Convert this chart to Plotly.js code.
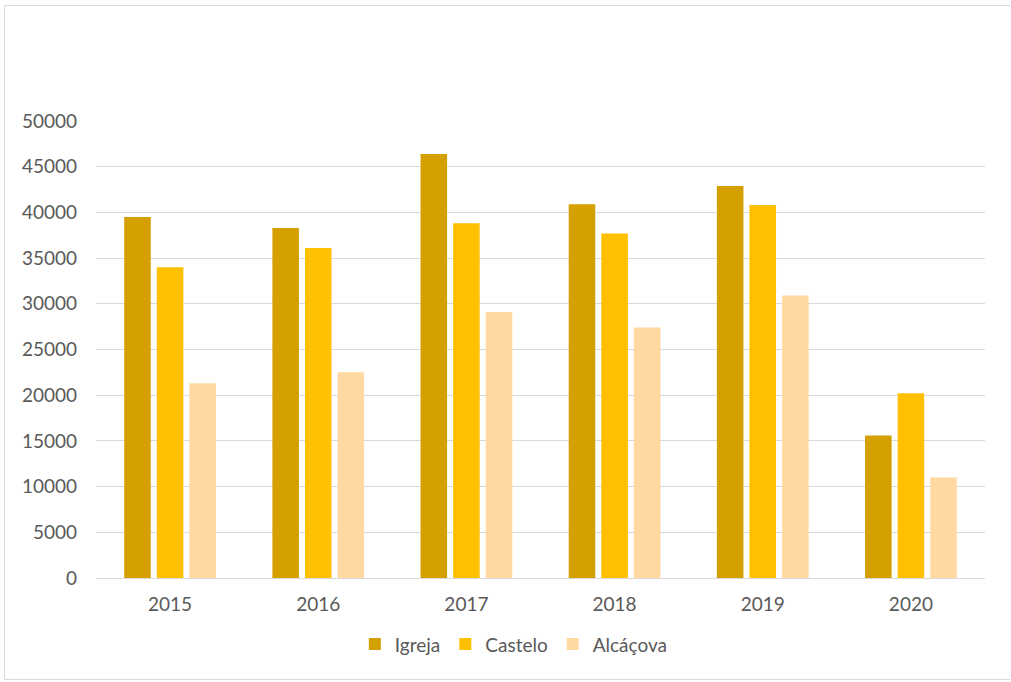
<!DOCTYPE html>
<html>
<head>
<meta charset="utf-8">
<script src="https://cdn.plot.ly/plotly-3.0.1.min.js"></script>
<style>
  html, body { margin: 0; padding: 0; background: #fff; }
  #wrap { position: relative; width: 1011px; height: 682px; }
  #chart { position: absolute; left: 0; top: 0; width: 1011px; height: 682px; }
  #frame { position: absolute; left: 4px; top: 5px; width: 1006px; height: 675px; border: 1px solid #d9d9d9; pointer-events: none; box-sizing: border-box; border-right: none; }
</style>
</head>
<body>
<div id="wrap"><div id="chart"></div><div id="frame"></div></div>
<script>
const years = ['2015', '2016', '2017', '2018', '2019', '2020'];
const igreja = [39500, 38300, 46400, 40900, 42900, 15600];
const castelo = [34000, 36100, 38800, 37700, 40800, 20200];
const alcacova = [21300, 22500, 29100, 27400, 30900, 11000];
const seriesNames = ['Igreja', 'Castelo', 'Alcáçova'];
const yTicks = [0, 5000, 10000, 15000, 20000, 25000, 30000, 35000, 40000, 45000, 50000];

const colors = ['#D4A000', '#FFC000', '#FFD9A1'];
const data = [igreja, castelo, alcacova].map((vals, i) => ({
  type: 'bar',
  name: seriesNames[i],
  x: years,
  y: vals,
  marker: { color: colors[i] },
  hoverinfo: 'x+y+name'
}));

const font = { family: 'Lato, "Liberation Sans", sans-serif', size: 19, color: '#595959' };
const layout = {
  width: 1011,
  height: 682,
  margin: { l: 96, r: 26, t: 121, b: 104 },
  paper_bgcolor: '#ffffff',
  plot_bgcolor: '#ffffff',
  font: font,
  barmode: 'group',
  bargap: 0.34,
  bargroupgap: 0.185,
  showlegend: true,
  legend: {
    orientation: 'h',
    x: 0.47, xanchor: 'center',
    y: -0.145, yanchor: 'middle',
    font: font,
    itemwidth: 30,
    traceorder: 'normal'
  },
  xaxis: {
    type: 'category',
    tickvals: years,
    ticktext: years,
    showgrid: false,
    showline: true,
    linecolor: '#d9d9d9',
    linewidth: 1,
    ticks: '',
    tickfont: font,
    ticklabelstandoff: 9
  },
  yaxis: {
    range: [0, 50000],
    tickvals: yTicks,
    ticktext: yTicks.map(String),
    showgrid: true,
    gridcolor: '#d9d9d9',
    gridwidth: 1,
    zeroline: false,
    showline: false,
    ticks: '',
    tickfont: font,
    ticklabelstandoff: 18
  }
};

Plotly.newPlot('chart', data, layout, { displayModeBar: false, staticPlot: true });
</script>
</body>
</html>
